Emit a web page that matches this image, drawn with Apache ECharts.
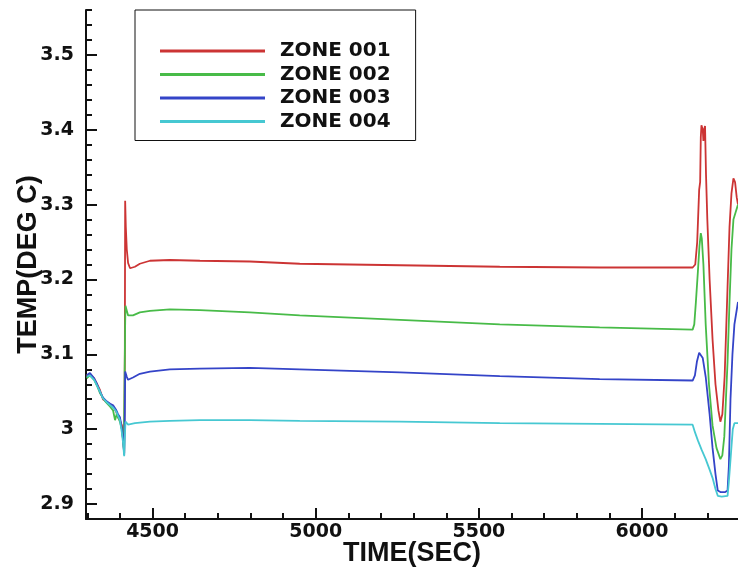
<!DOCTYPE html>
<html>
<head>
<meta charset="utf-8">
<script src="https://cdn.jsdelivr.net/npm/echarts@6/dist/echarts.min.js"></script>
<style>
  html, body { margin: 0; padding: 0; background: #fff; }
  #chart { width: 738px; height: 573px; }
</style>
</head>
<body>
<div id="chart"></div>
<script>
// Zone temperatures over time (seconds, deg C)
const zone001Time = [4298, 4308, 4321, 4330, 4339, 4348, 4357, 4370, 4379, 4388, 4394, 4400, 4406, 4410, 4413, 4415, 4416, 4418, 4421, 4425, 4431, 4437, 4446, 4461, 4492, 4553, 4645, 4798, 4951, 5258, 5564, 5870, 6155, 6163, 6169, 6175, 6178, 6180, 6182, 6186, 6188, 6190, 6193, 6196, 6200, 6207, 6216, 6225, 6234, 6240, 6246, 6253, 6262, 6268, 6274, 6280, 6285, 6290, 6294];
const zone001Temp = [3.071, 3.074, 3.068, 3.060, 3.052, 3.040, 3.037, 3.033, 3.030, 3.024, 3.016, 3.012, 3.005, 2.985, 2.968, 3.100, 3.305, 3.270, 3.240, 3.222, 3.215, 3.214, 3.217, 3.221, 3.225, 3.226, 3.225, 3.224, 3.221, 3.219, 3.217, 3.216, 3.216, 3.220, 3.250, 3.320, 3.330, 3.390, 3.406, 3.400, 3.385, 3.400, 3.405, 3.340, 3.280, 3.200, 3.120, 3.060, 3.025, 3.010, 3.020, 3.070, 3.190, 3.270, 3.315, 3.335, 3.330, 3.310, 3.300];

const zone002Time = [4298, 4308, 4321, 4330, 4339, 4348, 4357, 4370, 4379, 4385, 4390, 4394, 4400, 4406, 4412, 4415, 4416, 4417, 4420, 4425, 4431, 4440, 4461, 4492, 4553, 4645, 4798, 4951, 5258, 5564, 5870, 6155, 6160, 6165, 6171, 6176, 6180, 6183, 6188, 6195, 6205, 6216, 6228, 6240, 6246, 6252, 6262, 6268, 6274, 6280, 6287, 6294];
const zone002Temp = [3.068, 3.072, 3.066, 3.058, 3.048, 3.042, 3.036, 3.030, 3.025, 3.012, 3.020, 3.018, 3.010, 3.000, 2.975, 3.100, 3.142, 3.165, 3.160, 3.152, 3.150, 3.152, 3.156, 3.158, 3.160, 3.159, 3.156, 3.152, 3.146, 3.140, 3.136, 3.133, 3.140, 3.170, 3.210, 3.245, 3.262, 3.255, 3.220, 3.140, 3.060, 3.005, 2.975, 2.960, 2.965, 2.990, 3.090, 3.170, 3.240, 3.280, 3.290, 3.300];

const zone003Time = [4298, 4308, 4321, 4330, 4339, 4348, 4357, 4370, 4379, 4388, 4394, 4400, 4406, 4410, 4413, 4415, 4416, 4418, 4421, 4425, 4431, 4440, 4461, 4492, 4553, 4645, 4798, 4951, 5258, 5564, 5870, 6155, 6162, 6168, 6175, 6180, 6186, 6195, 6207, 6216, 6225, 6232, 6240, 6255, 6262, 6266, 6271, 6277, 6283, 6294];
const zone003Temp = [3.072, 3.075, 3.068, 3.060, 3.050, 3.042, 3.038, 3.034, 3.032, 3.026, 3.020, 3.016, 3.000, 2.985, 2.966, 3.020, 3.077, 3.076, 3.070, 3.066, 3.066, 3.069, 3.074, 3.077, 3.080, 3.081, 3.082, 3.080, 3.076, 3.071, 3.067, 3.065, 3.072, 3.090, 3.102, 3.104, 3.095, 3.070, 3.020, 2.975, 2.940, 2.918, 2.916, 2.916, 2.918, 2.950, 3.040, 3.100, 3.140, 3.170];

const zone004Time = [4298, 4308, 4321, 4330, 4339, 4348, 4357, 4370, 4379, 4388, 4394, 4400, 4406, 4410, 4413, 4415, 4417, 4420, 4425, 4431, 4446, 4492, 4553, 4645, 4798, 4951, 5258, 5564, 5870, 6155, 6162, 6171, 6183, 6195, 6207, 6216, 6225, 6232, 6244, 6262, 6266, 6272, 6278, 6283, 6294];
const zone004Temp = [3.070, 3.072, 3.066, 3.058, 3.050, 3.041, 3.037, 3.032, 3.029, 3.024, 3.018, 3.012, 2.995, 2.980, 2.964, 2.990, 3.010, 3.008, 3.006, 3.006, 3.008, 3.010, 3.011, 3.012, 3.012, 3.011, 3.010, 3.008, 3.007, 3.006, 2.996, 2.985, 2.972, 2.960, 2.946, 2.935, 2.920, 2.911, 2.910, 2.911, 2.930, 2.965, 3.000, 3.008, 3.008];

const zoneNames = ['ZONE 001', 'ZONE 002', 'ZONE 003', 'ZONE 004'];
const zoneColors = ['#cc3434', '#48bb48', '#3444c8', '#46c8d2'];

// Axis ranges and tick positions
const timeMin = 4296, timeMax = 6294;
const tempMin = 2.88, tempMax = 3.56;
const timeMajorTicks = [4500, 5000, 5500, 6000];
const tempMajorTicks = [2.9, 3.0, 3.1, 3.2, 3.3, 3.4, 3.5];

const timeMinorTicks = [];
for (let t = 4300; t <= 6200; t += 100) timeMinorTicks.push(t);
const tempMinorTicks = [];
for (let k = 144; k <= 178; k++) tempMinorTicks.push(+(k * 0.02).toFixed(2));

const zip = (xs, ys) => xs.map((x, i) => [x, ys[i]]);
const seriesData = [
  zip(zone001Time, zone001Temp),
  zip(zone002Time, zone002Temp),
  zip(zone003Time, zone003Temp),
  zip(zone004Time, zone004Temp)
];

const tickFont = { fontFamily: 'DejaVu Sans', fontWeight: 'bold', fontSize: 19, color: '#111' };
const nameFont = { fontFamily: 'Liberation Sans', fontWeight: 'bold', fontSize: 27, color: '#111' };
const axisLineStyle = { show: true, lineStyle: { color: '#111', width: 2 } };

const chart = echarts.init(document.getElementById('chart'), null, { renderer: 'canvas' });
chart.setOption({
  backgroundColor: '#fff',
  animation: false,
  grid: { left: 86, right: 0, top: 10, bottom: 54, containLabel: false, outerBoundsMode: 'none' },
  legend: {
    left: 135, top: 10,
    orient: 'vertical',
    data: zoneNames,
    icon: 'rect',
    itemWidth: 105, itemHeight: 3,
    itemGap: 3.5,
    padding: [31, 25, 9, 25],
    borderColor: '#111', borderWidth: 1,
    backgroundColor: '#fff',
    textStyle: { fontFamily: 'DejaVu Sans', fontWeight: 'bold', fontSize: 20, color: '#111', padding: [0, 0, 0, 10] }
  },
  xAxis: [
    {
      type: 'value', min: timeMin, max: timeMax, position: 'bottom',
      name: 'TIME(SEC)', nameLocation: 'middle', nameGap: 21, nameMoveOverlap: false, nameTextStyle: nameFont,
      axisLine: axisLineStyle,
      axisTick: { show: true, inside: true, length: 11, customValues: timeMajorTicks, lineStyle: { color: '#111', width: 2 } },
      axisLabel: Object.assign({ customValues: timeMajorTicks, margin: 4, formatter: v => String(v) }, tickFont),
      splitLine: { show: false }
    },
    {
      type: 'value', min: timeMin, max: timeMax, position: 'bottom',
      axisLine: { show: false },
      axisTick: { show: true, inside: true, length: 6, customValues: timeMinorTicks, lineStyle: { color: '#111', width: 2 } },
      axisLabel: { show: false },
      splitLine: { show: false }
    }
  ],
  yAxis: [
    {
      type: 'value', min: tempMin, max: tempMax, position: 'left',
      name: 'TEMP(DEG C)', nameLocation: 'middle', nameGap: 44, nameMoveOverlap: false, nameTextStyle: nameFont,
      axisLine: axisLineStyle,
      axisTick: { show: true, inside: true, length: 11, customValues: tempMajorTicks, lineStyle: { color: '#111', width: 2 } },
      axisLabel: Object.assign({
        customValues: tempMajorTicks, margin: 12,
        formatter: v => String(Math.round(v * 10) / 10)
      }, tickFont),
      splitLine: { show: false }
    },
    {
      type: 'value', min: tempMin, max: tempMax, position: 'left',
      axisLine: { show: false },
      axisTick: { show: true, inside: true, length: 6, customValues: tempMinorTicks, lineStyle: { color: '#111', width: 2 } },
      axisLabel: { show: false },
      splitLine: { show: false }
    }
  ],
  series: zoneNames.map((name, i) => ({
    name,
    type: 'line',
    xAxisIndex: 0,
    yAxisIndex: 0,
    data: seriesData[i],
    showSymbol: false,
    symbol: 'none',
    color: zoneColors[i],
    lineStyle: { color: zoneColors[i], width: 1.8 },
    clip: true,
    z: 2
  }))
});
</script>
</body>
</html>
